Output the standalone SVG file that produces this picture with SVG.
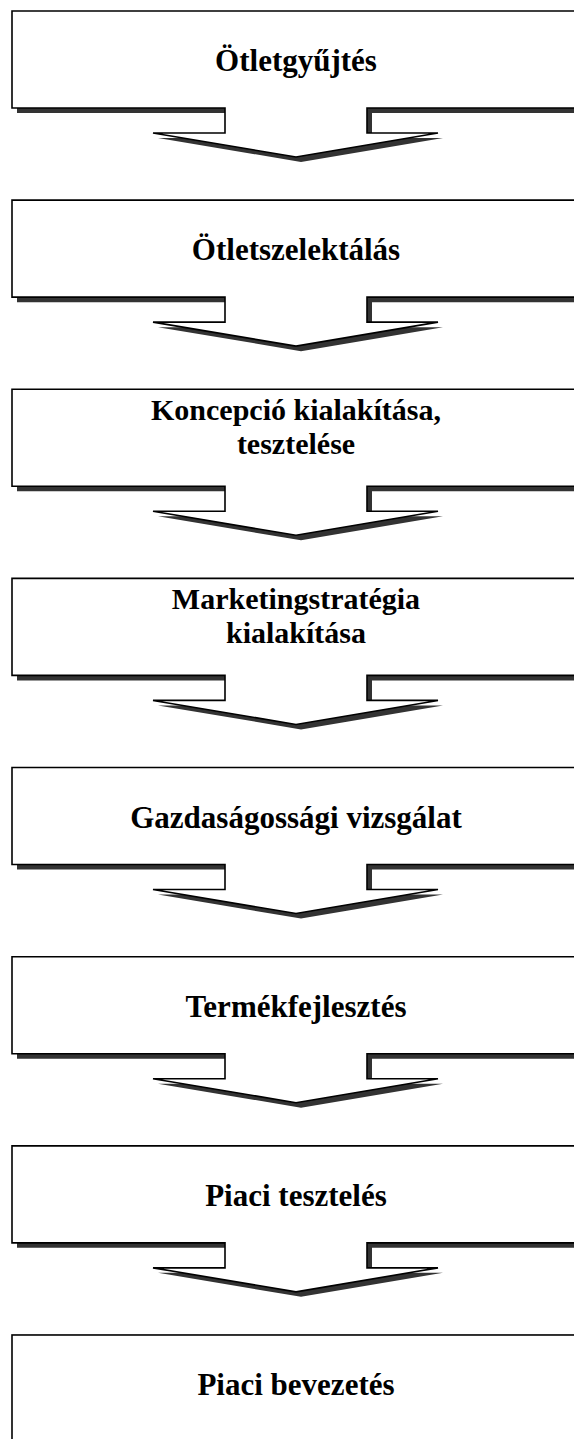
<svg xmlns="http://www.w3.org/2000/svg" xmlns:xlink="http://www.w3.org/1999/xlink" width="574" height="1439" viewBox="0 0 574 1439">
<style>
.shadow{fill:#333333;stroke:none}
.box{fill:#ffffff;stroke:#000000;stroke-width:1.6;stroke-linejoin:miter}
.lbl{font-family:"Liberation Serif","Times New Roman",serif;font-weight:bold;font-size:31px;fill:#000000;text-anchor:middle}
.lbl2{font-family:"Liberation Serif","Times New Roman",serif;font-weight:bold;font-size:30px;fill:#000000;text-anchor:middle}
</style>
<defs>
<path id="callout" d="M12,0 H580 V97 H367 V122 H438 L296,146 L153,122 H225 V97 H12 Z"/>
</defs>
<rect width="574" height="1439" fill="#ffffff"/>
<g id="n1" transform="translate(0,11)">
<use xlink:href="#callout" href="#callout" class="shadow" x="5" y="5"/>
<use xlink:href="#callout" href="#callout" class="box"/>
<text class="lbl" x="296" y="60">Ötletgyűjtés</text>
</g>
<g id="n2" transform="translate(0,200.14)">
<use xlink:href="#callout" href="#callout" class="shadow" x="5" y="5"/>
<use xlink:href="#callout" href="#callout" class="box"/>
<text class="lbl" x="296" y="60">Ötletszelektálás</text>
</g>
<g id="n3" transform="translate(0,389.28)">
<use xlink:href="#callout" href="#callout" class="shadow" x="5" y="5"/>
<use xlink:href="#callout" href="#callout" class="box"/>
<text class="lbl2" x="296" y="31">Koncepció kialakítása,</text>
<text class="lbl2" x="296" y="65">tesztelése</text>
</g>
<g id="n4" transform="translate(0,578.42)">
<use xlink:href="#callout" href="#callout" class="shadow" x="5" y="5"/>
<use xlink:href="#callout" href="#callout" class="box"/>
<text class="lbl2" x="296" y="31">Marketingstratégia</text>
<text class="lbl2" x="296" y="65">kialakítása</text>
</g>
<g id="n5" transform="translate(0,767.56)">
<use xlink:href="#callout" href="#callout" class="shadow" x="5" y="5"/>
<use xlink:href="#callout" href="#callout" class="box"/>
<text class="lbl" x="296" y="60">Gazdaságossági vizsgálat</text>
</g>
<g id="n6" transform="translate(0,956.7)">
<use xlink:href="#callout" href="#callout" class="shadow" x="5" y="5"/>
<use xlink:href="#callout" href="#callout" class="box"/>
<text class="lbl" x="296" y="60">Termékfejlesztés</text>
</g>
<g id="n7" transform="translate(0,1145.84)">
<use xlink:href="#callout" href="#callout" class="shadow" x="5" y="5"/>
<use xlink:href="#callout" href="#callout" class="box"/>
<text class="lbl" x="296" y="60">Piaci tesztelés</text>
</g>
<g id="n8" transform="translate(0,1334.98)">
<rect class="box" x="12" y="0" width="568" height="130"/>
<text class="lbl" x="296" y="60">Piaci bevezetés</text>
</g>
</svg>
